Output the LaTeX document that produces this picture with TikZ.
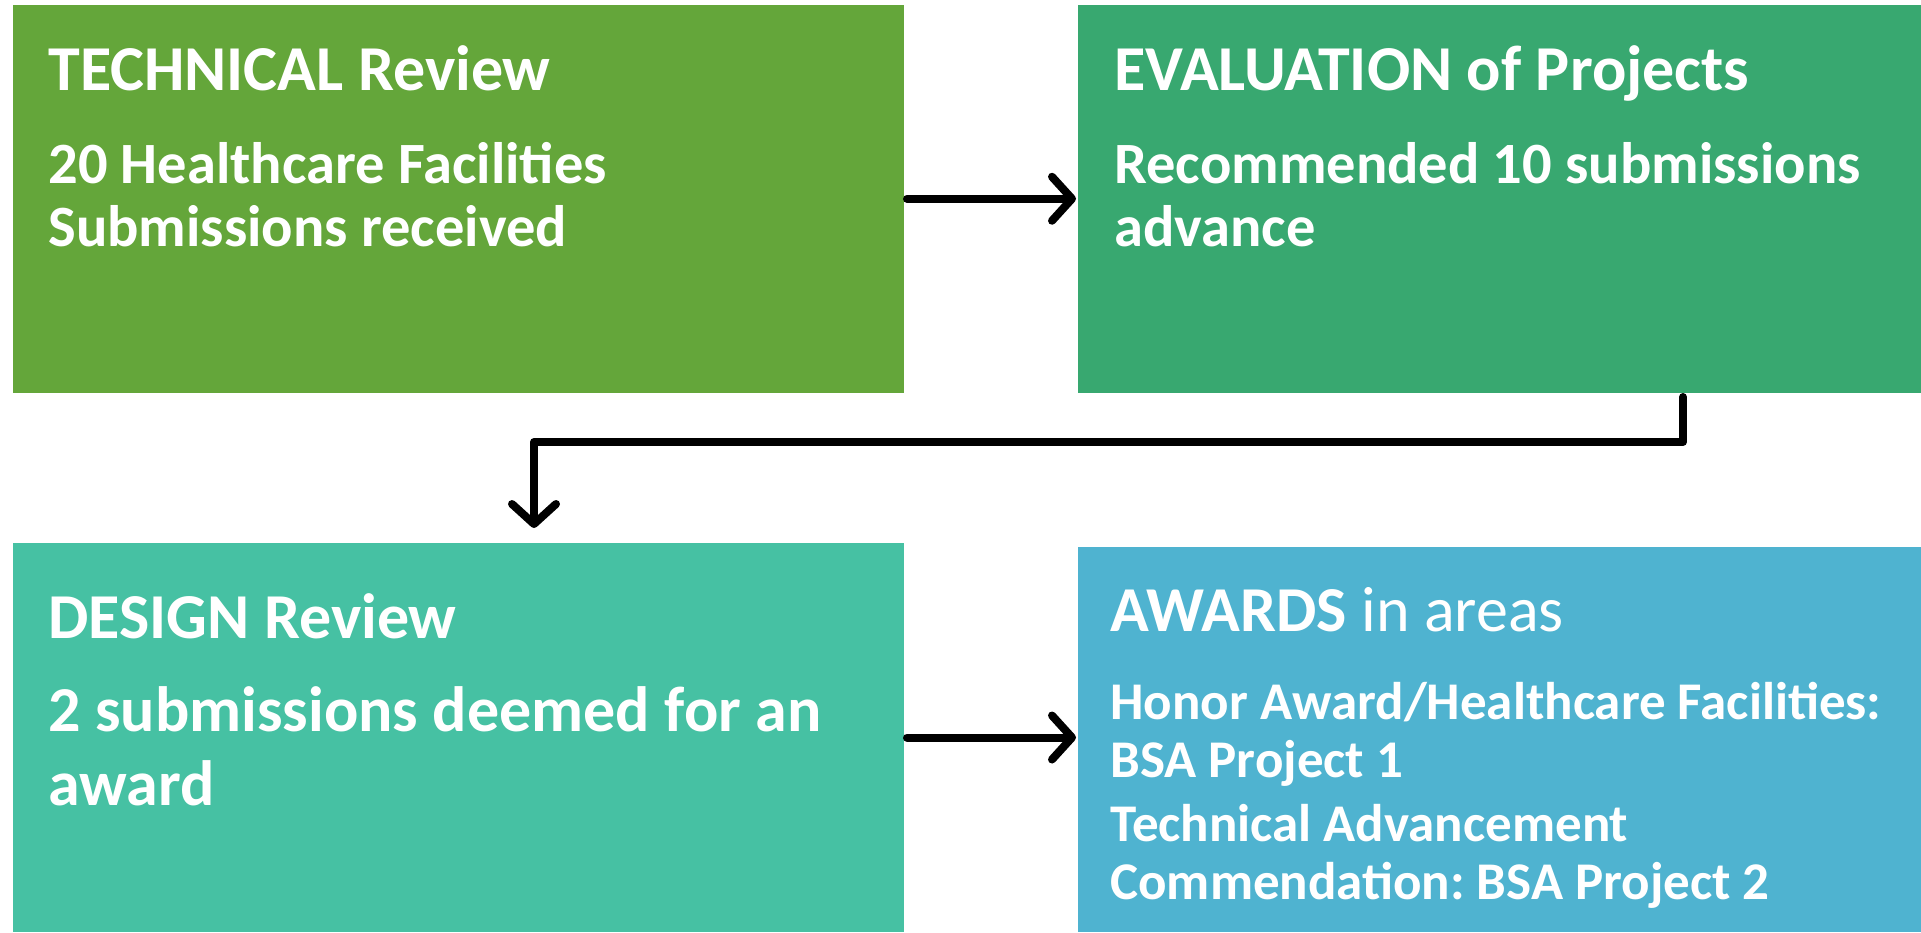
\documentclass[tikz,border=0pt]{standalone}
\usepackage{fontspec}
\setmainfont{Carlito}
\usetikzlibrary{arrows.meta}
\definecolor{cA}{HTML}{64A63A}
\definecolor{cB}{HTML}{38A870}
\definecolor{cC}{HTML}{46C1A3}
\definecolor{cD}{HTML}{4FB3D0}
\frenchspacing
\begin{document}
\begin{tikzpicture}[x=0.5pt,y=-0.5pt,
  box/.style={draw=none, inner sep=0pt, outer sep=0pt, anchor=north west},
  txt/.style={text=white, inner sep=0pt, anchor=base west, font=\bfseries\fontsize{#1}{#1}\selectfont},
  arr/.style={line width=4pt, line cap=round, line join=round, -{Straight Barb[length=10pt,width=22pt,round]}}]
\useasboundingbox (0,0) rectangle (1921,932);
\node[box, fill=cA, minimum width=445.75pt, minimum height=194.25pt] (b1) at (12.5,4.5) {};
\node[box, fill=cB, minimum width=421.5pt, minimum height=194.25pt] (b2) at (1078,4.5) {};
\node[box, fill=cC, minimum width=445.75pt, minimum height=194.5pt] (b3) at (12.5,543) {};
\node[box, fill=cD, minimum width=421.5pt, minimum height=192.5pt] (b4) at (1078,547) {};
% texts
\node[txt=32] (t1a) at (48,90) {TECHNICAL Review};
\node[txt=29.25] (t1b) at (48,183) {20 Healthcare Facilities};
\node[txt=29.25] (t1c) at (48,246) {Submissions received};
\node[txt=32] (t2a) at (1114,90) {EVALUATION of Projects};
\node[txt=29.25] (t2b) at (1114,183) {Recommended 10 submissions};
\node[txt=29.25] (t2c) at (1114,246) {advance};
\node[txt=32] (t3a) at (48,638) {DESIGN Review};
\node[txt=32] (t3b) at (48,731) {2 submissions deemed for an};
\node[txt=32] (t3c) at (48,805) {award};
\node[txt=32] (t4a) at (1110,631) {AWARDS\mdseries\ in areas};
\node[txt=26.5] (t4b) at (1110,719) {Honor Award/Healthcare Facilities:};
\node[txt=26.5] (t4c) at (1110,777) {BSA Project 1};
\node[txt=26.5] (t4d) at (1110,841) {Technical Advancement};
\node[txt=26.5] (t4e) at (1110,899) {Commendation: BSA Project 2};
% connectors
\draw[arr, shorten <=1.5pt, shorten >=1pt] (b1.east) -- (b2.west);
\draw[arr, shorten <=1.5pt, shorten >=1pt] (b3.east) -- (b3.east -| b4.west);
\coordinate (e1) at (1683,393);
\coordinate (e2) at (534,543);
\draw[arr, shorten <=2pt, shorten >=7.5pt] (e1) -- ++(0,49) -| (e2);
\end{tikzpicture}
\end{document}
